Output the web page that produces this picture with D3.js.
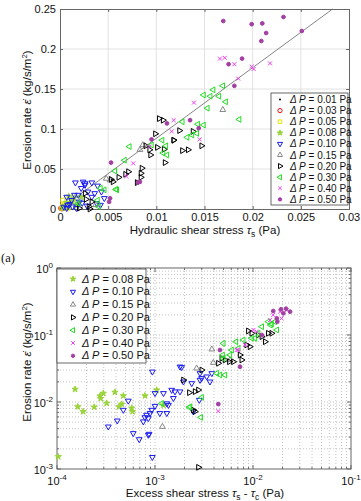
<!DOCTYPE html>
<html>
<head>
<meta charset="utf-8">
<script src="https://cdn.jsdelivr.net/npm/d3@7"></script>
<style>
body { margin: 0; background: #fff; }
svg { font-family: "Liberation Sans", Arial, sans-serif; }
</style>
</head>
<body>
<div id="chart"></div>
<script>
// ---- data: panel (a) erosion rate vs hydraulic shear stress ----
var topP01 = [[0.0001, 0.0003], [0.0002, 0.0002], [0.0003, 0.0006]];
var topP03 = [[0.0002, 0.0005], [0.0001, 0.001]];
var topP05 = [[0.0002, 0.001], [0.0004, 0.002], [0.0006, 0.003], [0.0003, 0.004], [0.0008, 0.001], [0.0005, 0.007], [0.0003, 0.011]];
var topP08 = [[0.0003, 0.002], [0.0005, 0.004], [0.0007, 0.008], [0.001, 0.006], [0.0012, 0.011], [0.0015, 0.014],
  [0.0004, 0.001], [0.0009, 0.003], [0.0019, 0.007], [0.0013, 0.009], [0.0022, 0.015], [0.0017, 0.004], [0.0009, 0.016]];
var topP10 = [[0.0024, 0.034], [0.0026, 0.032], [0.0033, 0.033], [0.0039, 0.029], [0.0043, 0.0216], [0.0015, 0.0175],
  [0.0019, 0.0175], [0.0012, 0.011], [0.002, 0.009], [0.0008, 0.005], [0.0013, 0.003], [0.0017, 0.001], [0.0007, 0.001],
  [0.0036, 0.0196], [0.0029, 0.0216], [0.0046, 0.0134], [0.0038, 0.007], [0.0016, 0.033], [0.0026, 0.03], [0.0004, 0.0025],
  [0.001, 0.006], [0.0023, 0.0075], [0.0028, 0.004], [0.0033, 0.015], [0.0042, 0.005], [0.0007, 0.015], [0.0022, 0.026]];
var topP15 = [[0.0086, 0.08], [0.0048, 0.038], [0.0169, 0.124], [0.0052, 0.036], [0.0037, 0.005], [0.0083, 0.074]];
var topP20 = [[0.0103, 0.113], [0.0107, 0.111], [0.0099, 0.094], [0.0124, 0.098], [0.0138, 0.097], [0.0118, 0.086],
  [0.0101, 0.077], [0.0108, 0.0746], [0.0127, 0.073], [0.0133, 0.074], [0.0147, 0.079], [0.0094, 0.0675], [0.0089, 0.079],
  [0.0093, 0.074], [0.0085, 0.051], [0.0084, 0.0446], [0.0084, 0.0396], [0.008, 0.033], [0.0071, 0.0466], [0.0068, 0.0434],
  [0.0061, 0.0396], [0.0053, 0.037], [0.0055, 0.034], [0.0026, 0.0196], [0.0027, 0.0121], [0.0033, 0.009], [0.003, 0.003],
  [0.002, 0.001], [0.0031, 0.0], [0.0109, 0.058], [0.0118, 0.086]];
var topP30 = [[0.0169, 0.154], [0.0159, 0.149], [0.0156, 0.141], [0.0149, 0.1425], [0.0165, 0.141], [0.0172, 0.134],
  [0.0153, 0.126], [0.0186, 0.112], [0.0127, 0.109], [0.0143, 0.106], [0.0149, 0.105], [0.0142, 0.0946], [0.0137, 0.0925],
  [0.0132, 0.0896], [0.0106, 0.086], [0.011, 0.079], [0.0111, 0.0675], [0.0057, 0.0475], [0.0072, 0.078], [0.0058, 0.0246],
  [0.0046, 0.024], [0.0039, 0.011], [0.0019, 0.007], [0.0042, 0.026], [0.0059, 0.024], [0.004, 0.003], [0.0067, 0.061],
  [0.0095, 0.08], [0.0107, 0.07]];
var topP40 = [[0.0166, 0.188], [0.0171, 0.189], [0.0181, 0.181], [0.0199, 0.178], [0.0201, 0.175], [0.0218, 0.182],
  [0.0185, 0.163], [0.0139, 0.133], [0.0118, 0.111], [0.0116, 0.097], [0.0145, 0.087], [0.0076, 0.057], [0.0069, 0.041],
  [0.0093, 0.078]];
var topP50 = [[0.01695, 0.235], [0.0199, 0.231], [0.021, 0.232], [0.0232, 0.24], [0.0214, 0.22], [0.0209, 0.21],
  [0.0251, 0.2225], [0.0189, 0.188], [0.0175, 0.181], [0.0181, 0.154], [0.0135, 0.111], [0.0111, 0.107], [0.0144, 0.101],
  [0.0095, 0.087], [0.0053, 0.058], [0.0081, 0.033], [0.0051, 0.009], [0.0052, 0.0134], [0.0083, 0.034]];
var fitLine = [[0, 0], [0.0283, 0.25]];

var topXTicks = [0, 0.005, 0.01, 0.015, 0.02, 0.025, 0.03];
var topXLabels = ["0", "0.005", "0.01", "0.015", "0.02", "0.025", "0.03"];
var topYTicks = [0, 0.05, 0.1, 0.15, 0.2, 0.25];
var topYLabels = ["0", "0.05", "0.1", "0.15", "0.2", "0.25"];

// ---- data: panel (b) erosion rate vs excess shear stress (log-log) ----
var botP08 = [[1.53e-4, 0.0155], [1.63e-4, 0.0085], [1.85e-4, 0.0072], [2.4e-4, 0.0084], [2.79e-4, 0.0113], [2.97e-4, 0.0135],
  [2.75e-4, 0.0123], [3.21e-4, 0.0096], [3.9e-4, 0.014], [4.29e-4, 0.0085], [4.75e-4, 0.0124], [4.58e-4, 0.0093],
  [5.78e-4, 0.0081], [5.9e-4, 0.0072], [7.9e-4, 0.0124], [1.04e-3, 0.0151], [1.22e-3, 0.009], [1.03e-4, 0.00153]];
var botP10 = [[5.34e-4, 0.0104], [4.75e-4, 0.0076], [4.12e-4, 0.00526], [3.34e-4, 0.00428], [6.0e-4, 0.00341],
  [6.9e-4, 0.00277], [8.7e-4, 0.00333], [9.4e-4, 0.0015], [7.9e-4, 0.0059], [8.55e-4, 0.0057], [7.6e-4, 0.0051],
  [8.9e-4, 0.0068], [9.25e-4, 0.0076], [1.0e-3, 0.0087], [1.0e-3, 0.0135], [1.22e-3, 0.0135], [1.12e-3, 0.0068],
  [1.32e-3, 0.0068], [1.32e-3, 0.0095], [1.48e-3, 0.0151], [1.6e-3, 0.0143], [9.4e-4, 0.0283], [1.87e-3, 0.033],
  [1.37e-3, 0.009], [1.54e-3, 0.0114], [1.8e-3, 0.0143], [1.95e-3, 0.0201], [2.37e-3, 0.019], [2.88e-3, 0.0213],
  [2.99e-3, 0.0226], [2.88e-3, 0.0268], [3.8e-3, 0.0268], [3.64e-3, 0.0201], [3.37e-3, 0.0239], [8.55e-4, 0.00322],
  [8.2e-4, 0.0064], [2.83e-3, 0.0107], [1.8e-3, 0.0336], [2.46e-3, 0.0072]];
var botP15 = [[1.19e-3, 0.00428], [2.66e-3, 0.0318], [3.94e-3, 0.0386], [3.8e-3, 0.0612], [5.82e-3, 0.0424]];
var botP20 = [[1.95e-3, 0.0213], [2.24e-3, 0.0138], [2.56e-3, 0.0143], [2.77e-3, 0.0151], [2.46e-3, 0.0076],
  [3.0e-3, 0.03], [4.43e-3, 0.0378], [4.8e-3, 0.0449], [5.18e-3, 0.0424], [5.73e-3, 0.0399], [7.37e-3, 0.0503],
  [7.67e-3, 0.0424], [9.7e-3, 0.106], [2.56e-3, 0.0072], [2.77e-3, 0.00106], [1.13e-2, 0.1], [1.23e-2, 0.0944],
  [8.6e-3, 0.071], [9.3e-3, 0.0669], [6.3e-3, 0.0399], [1.43e-2, 0.106], [1.33e-2, 0.0794], [1.55e-2, 0.106],
  [8.95e-3, 0.1148]];
var botP30 = [[1.17e-3, 0.0095], [3.0e-3, 0.0117], [2.24e-3, 0.0083], [2.93e-3, 0.0059], [4.26e-3, 0.0268],
  [5.18e-3, 0.0253], [5.82e-3, 0.0503], [4.9e-3, 0.0503], [4.98e-3, 0.0449], [6.7e-3, 0.0794], [7.96e-3, 0.0842],
  [9.7e-3, 0.0893], [2.28e-3, 0.0085], [1.43e-2, 0.158], [1.55e-2, 0.146], [1.51e-2, 0.141], [1.67e-2, 0.158],
  [1.75e-2, 0.119], [1.23e-2, 0.133], [1.13e-2, 0.106], [7.08e-3, 0.0633], [6.06e-3, 0.0597], [4.6e-3, 0.0253],
  [1.05e-2, 0.0893], [4.98e-3, 0.075]];
var botP40 = [[4.43e-3, 0.0073], [7.08e-3, 0.0597], [8.3e-3, 0.071], [1.61e-2, 0.199], [1.89e-2, 0.223],
  [2.21e-2, 0.236], [1.96e-2, 0.177], [1.49e-2, 0.167], [1.09e-2, 0.112], [6.82e-3, 0.0597], [1.01e-2, 0.119]];
var botP50 = [[1.61e-2, 0.228], [1.93e-2, 0.242], [2.17e-2, 0.247], [2.39e-2, 0.223], [2.04e-2, 0.211],
  [1.75e-2, 0.177], [1.77e-2, 0.158], [4.6e-3, 0.0597], [7.37e-3, 0.0336], [1.23e-2, 0.1], [4.43e-3, 0.0093]];

var botXTicks = [1e-4, 1e-3, 1e-2, 1e-1];
var botXExp = ["-4", "-3", "-2", "-1"];
var botYTicks = [1e-3, 1e-2, 1e-1, 1];
var botYExp = ["-3", "-2", "-1", "0"];

var topLegend = ["0.01", "0.03", "0.05", "0.08", "0.10", "0.15", "0.20", "0.30", "0.40", "0.50"];
var botLegend = ["0.08", "0.10", "0.15", "0.20", "0.30", "0.40", "0.50"];

// marker styles, keyed by the pressure step
var tri = d3.symbolTriangle2 || d3.symbolTriangle;
var times = d3.symbolTimes || d3.symbolX || d3.symbolCross;
var styles = {
  "0.01": { type: d3.symbolCircle, size: 4, fill: "#000", stroke: "none" },
  "0.03": { type: d3.symbolCircle, size: 18, fill: "none", stroke: "#e11" },
  "0.05": { type: d3.symbolSquare, size: 16, fill: "none", stroke: "#e6e600" },
  "0.08": { type: d3.symbolStar, size: 12, fill: "#9ad43a", stroke: "#9ad43a" },
  "0.10": { type: tri, size: 24, fill: "none", stroke: "#1b1bf0", rot: 180 },
  "0.15": { type: tri, size: 24, fill: "none", stroke: "#888", rot: 0 },
  "0.20": { type: tri, size: 24, fill: "none", stroke: "#000", rot: 90 },
  "0.30": { type: tri, size: 24, fill: "none", stroke: "#22dd22", rot: -90 },
  "0.40": { type: times, size: 12, fill: "none", stroke: "#f03cf0" },
  "0.50": { type: d3.symbolCircle, size: 11, fill: "#a23fa2", stroke: "#a23fa2" }
};

var svg = d3.select("#chart").append("svg")
  .attr("width", 361)
  .attr("height", 501);

function drawPoints(g, data, key, sx, sy) {
  var st = styles[key];
  g.selectAll(null)
    .data(data)
    .enter()
    .append("path")
    .attr("transform", function (d) {
      return "translate(" + sx(d[0]) + "," + sy(d[1]) + ") rotate(" + (st.rot || 0) + ")";
    })
    .attr("d", d3.symbol().type(st.type).size(st.size))
    .attr("fill", st.fill)
    .attr("stroke", st.stroke)
    .attr("stroke-width", 1);
}

function legendMarker(g, key, x, y) {
  var st = styles[key];
  g.append("path")
    .attr("transform", "translate(" + x + "," + y + ") rotate(" + (st.rot || 0) + ")")
    .attr("d", d3.symbol().type(st.type).size(st.size * 0.8))
    .attr("fill", st.fill)
    .attr("stroke", st.stroke)
    .attr("stroke-width", 1);
}

function legendText(g, label, x, y, fs) {
  var t = g.append("text")
    .attr("x", x).attr("y", y)
    .attr("font-size", fs)
    .attr("dominant-baseline", "middle")
    .attr("fill", "#111");
  t.append("tspan").attr("font-style", "italic").text("\u0394 P");
  t.append("tspan").text(" = " + label + " Pa");
}

function yLabel(g, cx, cy) {
  var t = g.append("text")
    .attr("transform", "translate(" + cx + "," + cy + ") rotate(-90)")
    .attr("text-anchor", "middle")
    .attr("font-size", 11.5)
    .attr("fill", "#111");
  t.append("tspan").text("Erosion rate ");
  t.append("tspan").attr("font-style", "italic").text("\u03b5\u0307");
  t.append("tspan").text("  (kg/s/m");
  t.append("tspan").attr("dy", -4).attr("font-size", 8).text("2");
  t.append("tspan").attr("dy", 4).text(")");
}

// ================= panel (a) =================
var ax = d3.scaleLinear().domain([0, 0.03]).range([60, 349]);
var ay = d3.scaleLinear().domain([0, 0.25]).range([209, 9]);
var gA = svg.append("g");

// grid
gA.selectAll(null).data(topXTicks.slice(1, -1)).enter().append("line")
  .attr("x1", ax).attr("x2", ax).attr("y1", ay(0)).attr("y2", ay(0.25))
  .attr("stroke", "#e2e2e2").attr("stroke-width", 1);
gA.selectAll(null).data(topYTicks.slice(1, -1)).enter().append("line")
  .attr("y1", ay).attr("y2", ay).attr("x1", ax(0)).attr("x2", ax(0.03))
  .attr("stroke", "#e2e2e2").attr("stroke-width", 1);

// axes (ticks inward, on all four sides)
gA.append("g").attr("transform", "translate(0," + ay(0) + ")")
  .call(d3.axisBottom(ax).tickValues(topXTicks).tickSize(-3).tickPadding(4)
    .tickFormat(function (d, i) { return topXLabels[i]; }));
gA.append("g").attr("transform", "translate(" + ax(0) + ",0)")
  .call(d3.axisLeft(ay).tickValues(topYTicks).tickSize(-3).tickPadding(4)
    .tickFormat(function (d, i) { return topYLabels[i]; }));
gA.append("g").attr("transform", "translate(0," + ay(0.25) + ")")
  .call(d3.axisTop(ax).tickValues(topXTicks).tickSize(-3).tickFormat(""));
gA.append("g").attr("transform", "translate(" + ax(0.03) + ",0)")
  .call(d3.axisRight(ay).tickValues(topYTicks).tickSize(-3).tickFormat(""));
gA.selectAll(".domain").attr("stroke", "#666");
gA.selectAll(".tick line").attr("stroke", "#666");
gA.selectAll(".tick text").attr("font-size", 11).attr("fill", "#111")
  .attr("font-family", "'Liberation Sans', Arial, sans-serif");

// fit line
gA.append("path")
  .datum(fitLine)
  .attr("d", d3.line().x(function (d) { return ax(d[0]); }).y(function (d) { return ay(d[1]); }))
  .attr("stroke", "#777").attr("stroke-width", 0.9).attr("fill", "none");

var ptsA = gA.append("g");
drawPoints(ptsA, topP01, "0.01", ax, ay);
drawPoints(ptsA, topP03, "0.03", ax, ay);
drawPoints(ptsA, topP05, "0.05", ax, ay);
drawPoints(ptsA, topP08, "0.08", ax, ay);
drawPoints(ptsA, topP10, "0.10", ax, ay);
drawPoints(ptsA, topP15, "0.15", ax, ay);
drawPoints(ptsA, topP20, "0.20", ax, ay);
drawPoints(ptsA, topP30, "0.30", ax, ay);
drawPoints(ptsA, topP40, "0.40", ax, ay);
drawPoints(ptsA, topP50, "0.50", ax, ay);

// legend (a)
var legA = gA.append("g");
legA.append("rect").attr("x", 271).attr("y", 93).attr("width", 77).attr("height", 112)
  .attr("fill", "#fff").attr("stroke", "#444").attr("stroke-width", 0.8);
topLegend.forEach(function (k, i) {
  var y = 99.5 + i * 11.1;
  legendMarker(legA, k, 280, y);
  legendText(legA, k, 290, y + 0.5, 10);
});

// axis titles (a)
var xtA = gA.append("text").attr("x", 205).attr("y", 234).attr("text-anchor", "middle")
  .attr("font-size", 11.5).attr("fill", "#111");
xtA.append("tspan").text("Hydraulic shear stress ");
xtA.append("tspan").attr("font-style", "italic").text("\u03c4");
xtA.append("tspan").attr("dy", 3).attr("font-size", 8.5).text("s");
xtA.append("tspan").attr("dy", -3).text(" (Pa)");
yLabel(gA, 31, 110);

svg.append("text").attr("x", 1).attr("y", 262)
  .attr("font-family", "'Liberation Serif', 'Times New Roman', serif")
  .attr("font-size", 12.5).attr("fill", "#111").text("(a)");

// ================= panel (b) =================
var bx = d3.scaleLog().domain([1e-4, 1e-1]).range([57, 351]);
var by = d3.scaleLog().domain([1e-3, 1]).range([469, 268]);
var gB = svg.append("g");

// dotted grid, major + minor decades
var gridX = bx.ticks().filter(function (v) { return v > 1e-4 && v < 1e-1; });
var gridY = by.ticks().filter(function (v) { return v > 1e-3 && v < 1; });
gB.selectAll(null).data(gridX).enter().append("line")
  .attr("x1", bx).attr("x2", bx).attr("y1", 268).attr("y2", 469)
  .attr("stroke", "#aaa").attr("stroke-width", 0.7).attr("stroke-dasharray", "1,2");
gB.selectAll(null).data(gridY).enter().append("line")
  .attr("y1", by).attr("y2", by).attr("x1", 57).attr("x2", 351)
  .attr("stroke", "#aaa").attr("stroke-width", 0.7).attr("stroke-dasharray", "1,2");

// minor/major tick marks inward on all sides
var allX = bx.ticks();
var allY = by.ticks();
function tickLen(v) { return Math.abs(Math.log10(v) - Math.round(Math.log10(v))) < 1e-6 ? 4 : 2; }
gB.selectAll(null).data(allX).enter().append("line")
  .attr("x1", bx).attr("x2", bx).attr("y1", 469).attr("y2", function (v) { return 469 - tickLen(v); })
  .attr("stroke", "#666");
gB.selectAll(null).data(allX).enter().append("line")
  .attr("x1", bx).attr("x2", bx).attr("y1", 268).attr("y2", function (v) { return 268 + tickLen(v); })
  .attr("stroke", "#666");
gB.selectAll(null).data(allY).enter().append("line")
  .attr("y1", by).attr("y2", by).attr("x1", 57).attr("x2", function (v) { return 57 + tickLen(v); })
  .attr("stroke", "#666");
gB.selectAll(null).data(allY).enter().append("line")
  .attr("y1", by).attr("y2", by).attr("x1", 351).attr("x2", function (v) { return 351 - tickLen(v); })
  .attr("stroke", "#666");
gB.append("rect").attr("x", 57).attr("y", 268).attr("width", 294).attr("height", 201)
  .attr("fill", "none").attr("stroke", "#666").attr("stroke-width", 1);

// power-of-ten labels
botXTicks.forEach(function (v, i) {
  var t = gB.append("text").attr("x", bx(v)).attr("y", 485).attr("text-anchor", "middle")
    .attr("font-size", 11).attr("fill", "#111");
  t.append("tspan").text("10");
  t.append("tspan").attr("dy", -5).attr("font-size", 8).text(botXExp[i]);
});
botYTicks.forEach(function (v, i) {
  var t = gB.append("text").attr("x", 53).attr("y", by(v) + 5).attr("text-anchor", "end")
    .attr("font-size", 11).attr("fill", "#111");
  t.append("tspan").text("10");
  t.append("tspan").attr("dy", -5).attr("font-size", 8).text(botYExp[i]);
});

var ptsB = gB.append("g");
drawPoints(ptsB, botP08, "0.08", bx, by);
drawPoints(ptsB, botP10, "0.10", bx, by);
drawPoints(ptsB, botP15, "0.15", bx, by);
drawPoints(ptsB, botP20, "0.20", bx, by);
drawPoints(ptsB, botP30, "0.30", bx, by);
drawPoints(ptsB, botP40, "0.40", bx, by);
drawPoints(ptsB, botP50, "0.50", bx, by);

// legend (b)
var legB = gB.append("g");
legB.append("rect").attr("x", 57).attr("y", 269).attr("width", 89).attr("height", 94)
  .attr("fill", "#fff").attr("stroke", "#444").attr("stroke-width", 0.8);
botLegend.forEach(function (k, i) {
  var y = 279 + i * 12.8;
  legendMarker(legB, k, 73, y);
  legendText(legB, k, 82, y + 0.5, 11);
});

// axis titles (b)
var xtB = gB.append("text").attr("x", 205).attr("y", 497).attr("text-anchor", "middle")
  .attr("font-size", 11.5).attr("fill", "#111");
xtB.append("tspan").text("Excess shear stress ");
xtB.append("tspan").attr("font-style", "italic").text("\u03c4");
xtB.append("tspan").attr("dy", 3).attr("font-size", 8.5).text("s");
xtB.append("tspan").attr("dy", -3).text(" - ");
xtB.append("tspan").attr("font-style", "italic").text("\u03c4");
xtB.append("tspan").attr("dy", 3).attr("font-size", 8.5).text("c");
xtB.append("tspan").attr("dy", -3).text("  (Pa)");
yLabel(gB, 31, 362);
</script>
</body>
</html>
